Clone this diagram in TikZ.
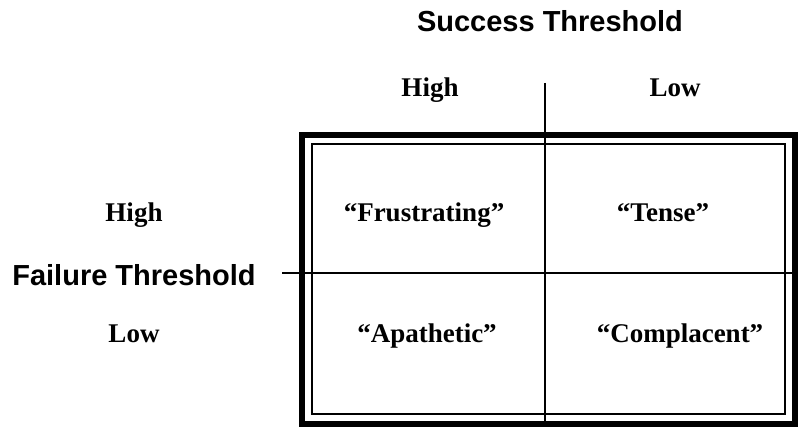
\documentclass[tikz,border=0pt]{standalone}
\usepackage{fontspec}
\setmainfont{Liberation Serif}
\newfontfamily\axisfont{Liberation Sans}
\usetikzlibrary{positioning}

\begin{document}
\begin{tikzpicture}[x=1pt,y=-1pt,
      axis/.style={font=\axisfont\bfseries\fontsize{29}{31}\selectfont,anchor=base,inner sep=0pt},
      level/.style={font=\bfseries\fontsize{27}{30}\selectfont,anchor=base,inner sep=0pt},
      cell/.style={font=\bfseries\fontsize{27}{30}\selectfont,anchor=base,inner sep=0pt}]
  \useasboundingbox (0,0) rectangle (800,430);
  % frame
  \draw[line width=6pt] (302,135) rectangle (795,424);
  \draw[line width=1.5pt] (312,144) rectangle (785,414);
  % dividers
  \coordinate (succTop) at (545,83);
  \coordinate (succBot) at (545,424);
  \coordinate (failLeft) at (282,273);
  \coordinate (failRight) at (795,273);
  \draw[line width=2.8pt] (succTop) -- (succBot);
  \draw[line width=2.5pt] (failLeft) -- (failRight);
  % axis titles
  \node[axis] (success) at (550,32) {Success Threshold};
  \node[axis] (failure) at (134,285) {Failure Threshold};
  % levels
  \node[level] (sHigh) at (430,97) {High};
  \node[level] (sLow) at (675,97) {Low};
  \node[level] (fHigh) at (134,222) {High};
  \node[level] (fLow) at (134,342) {Low};
  % cells
  \node[cell] (frus) at (424,222) {``Frustrating''};
  \node[cell] (tense) at (663,222) {``Tense''};
  \node[cell] (apath) at (427,342) {``Apathetic''};
  \node[cell] (compl) at (680,342) {``Complacent''};
\end{tikzpicture}
\end{document}
